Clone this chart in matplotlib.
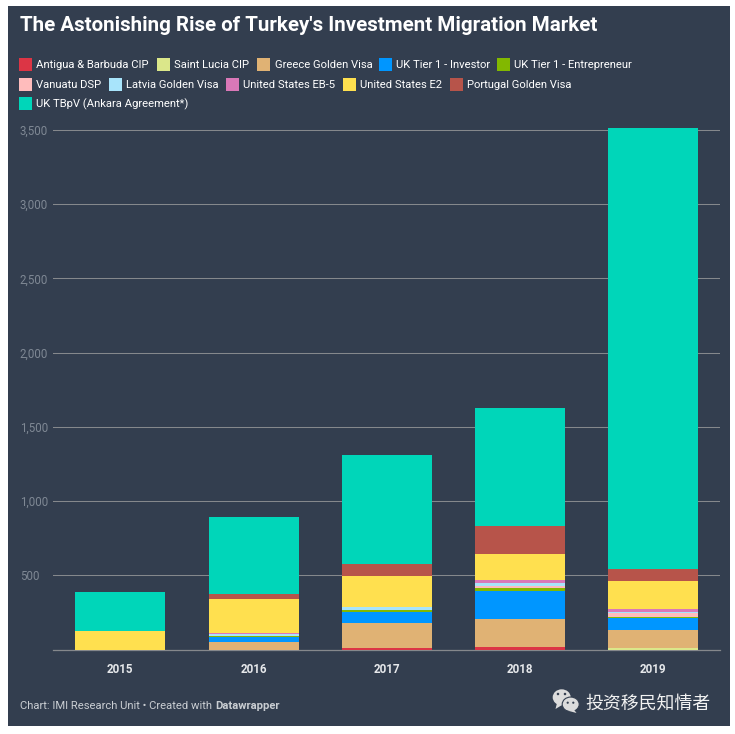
import matplotlib
matplotlib.use("Agg")
import matplotlib.pyplot as plt
from matplotlib.patches import Rectangle, Ellipse, Polygon

years = ["2015", "2016", "2017", "2018", "2019"]
antigua = [0, 0, 9, 16, 0]
saint_lucia = [0, 0, 0, 0, 9]
greece = [0, 50, 169, 189, 122]
tier1_investor = [0, 34, 74, 189, 83]
tier1_entrepreneur = [0, 7, 14, 20, 7]
vanuatu = [0, 0, 0, 14, 25]
latvia = [0, 14, 18, 20, 7]
eb5 = [0, 3, 0, 20, 20]
e2 = [124, 232, 212, 176, 189]
portugal = [0, 34, 81, 189, 81]
tbpv = [263, 520, 736, 797, 2972]

series = [antigua, saint_lucia, greece, tier1_investor, tier1_entrepreneur,
          vanuatu, latvia, eb5, e2, portugal, tbpv]
labels = ["Antigua & Barbuda CIP", "Saint Lucia CIP", "Greece Golden Visa",
          "UK Tier 1 - Investor", "UK Tier 1 - Entrepreneur", "Vanuatu DSP",
          "Latvia Golden Visa", "United States EB-5", "United States E2",
          "Portugal Golden Visa", "UK TBpV (Ankara Agreement*)"]
colors = ["#dc3545", "#dbe78a", "#e0b274", "#0096ff", "#82b800", "#ffbcbc",
          "#a8e4fb", "#da78b8", "#ffe04f", "#b7544a", "#00d6b9"]
yticks = [0, 500, 1000, 1500, 2000, 2500, 3000, 3500]
ytick_labels = ["", "500", "1,000", "1,500", "2,000", "2,500", "3,000", "3,500"]

W, H = 735, 734
BG = "#333e4f"
GRID = "#85888c"
plt.rcParams["font.family"] = ["Roboto", "DejaVu Sans"]

fig = plt.figure(figsize=(W / 100, H / 100), dpi=100, facecolor="white")

# overlay in pixel coords for panel, legend and footer
bg = fig.add_axes([0, 0, 1, 1], zorder=0)
bg.set_xlim(0, W)
bg.set_ylim(H, 0)
bg.axis("off")
bg.add_patch(Rectangle((8, 6), 722, 720, fc=BG, ec="none"))

# chart axes: 0 sits at y=649.5, 3500 at y=130
left, right, top, bottom = 53, 720, 120, 649.5
px_per_unit = (649.5 - 130) / 3500
ax = fig.add_axes([left / W, 1 - bottom / H, (right - left) / W, (bottom - top) / H], zorder=1)
ax.patch.set_alpha(0)
ax.set_ylim(0, (bottom - top) / px_per_unit)
step = 133.25
x0 = 120.3
ax.set_xlim((left - x0) / step, (right - x0) / step)

base = [0] * len(years)
xs = list(range(len(years)))
for vals, c in zip(series, colors):
    ax.bar(xs, vals, bottom=base, width=90 / step, color=c, linewidth=0, zorder=3)
    base = [b + v for b, v in zip(base, vals)]

for s in ax.spines.values():
    s.set_visible(False)
ax.spines["bottom"].set_visible(True)
ax.spines["bottom"].set_color(GRID)
ax.spines["bottom"].set_linewidth(0.9)
ax.spines["bottom"].set_zorder(2)
ax.set_yticks(yticks)
ax.set_yticklabels(ytick_labels, fontsize=8.3, color="#7f8894")
ax.grid(axis="y", color=GRID, linewidth=0.75, zorder=1)
ax.set_axisbelow(True)
ax.tick_params(axis="y", length=0, pad=24)
for t in ax.get_yticklabels():
    t.set_horizontalalignment("left")
ax.set_xticks(xs)
ax.set_xticklabels(years, fontsize=8.4, color="#e6e8eb", fontweight="bold")
ax.tick_params(axis="x", length=0, pad=10)

bg.text(19.7, 25.5, "The Astonishing Rise of Turkey's Investment Migration Market",
        fontsize=14.75, fontweight="bold", color="white", va="center", ha="left")

# legend rows
legend_x = [19, 157, 257.3, 379, 497, 19, 109, 226, 343, 450, 19]
legend_y = [58, 58, 58, 58, 58, 77.7, 77.7, 77.7, 77.7, 77.7, 97]
for name, c, lx, ly in zip(labels, colors, legend_x, legend_y):
    bg.add_patch(Rectangle((lx, ly), 13, 13, fc=c, ec="none"))
    bg.text(lx + 17.3, ly + 7, name, fontsize=8.1, color="white", va="center", ha="left")

bg.text(20, 706, "Chart: IMI Research Unit • Created with", fontsize=8.1,
        color="#c9cdd2", va="center", ha="left")
bg.text(215.7, 706, "Datawrapper", fontsize=8.1, fontweight="bold",
        color="#c9cdd2", va="center", ha="left")

# wechat mark
icon = "#dcdcdc"
bg.add_patch(Ellipse((561.7, 697.3), 18, 16, fc=icon, ec="none"))
bg.add_patch(Polygon([[557, 703], [555.5, 709], [562, 705]], fc=icon, ec="none"))
bg.add_patch(Ellipse((570.7, 704.3), 17, 14.5, fc=icon, ec=BG, lw=0.8))
bg.add_patch(Polygon([[573.5, 709], [576.5, 713], [569, 711]], fc=icon, ec="none"))
for ex, ey in [(558, 694), (565, 694)]:
    bg.add_patch(Ellipse((ex, ey), 2.5, 2.5, fc=BG, ec="none"))
for ex, ey in [(567.7, 702.7), (573.3, 702.7)]:
    bg.add_patch(Ellipse((ex, ey), 2.2, 2.2, fc=BG, ec="none"))
bg.text(585.5, 704, "投资移民知情者", fontsize=12.9, color="#f2f2f2", va="center", ha="left",
        family=["Noto Sans CJK SC", "DejaVu Sans"])

fig.savefig("out.png", dpi=100, facecolor="white")
